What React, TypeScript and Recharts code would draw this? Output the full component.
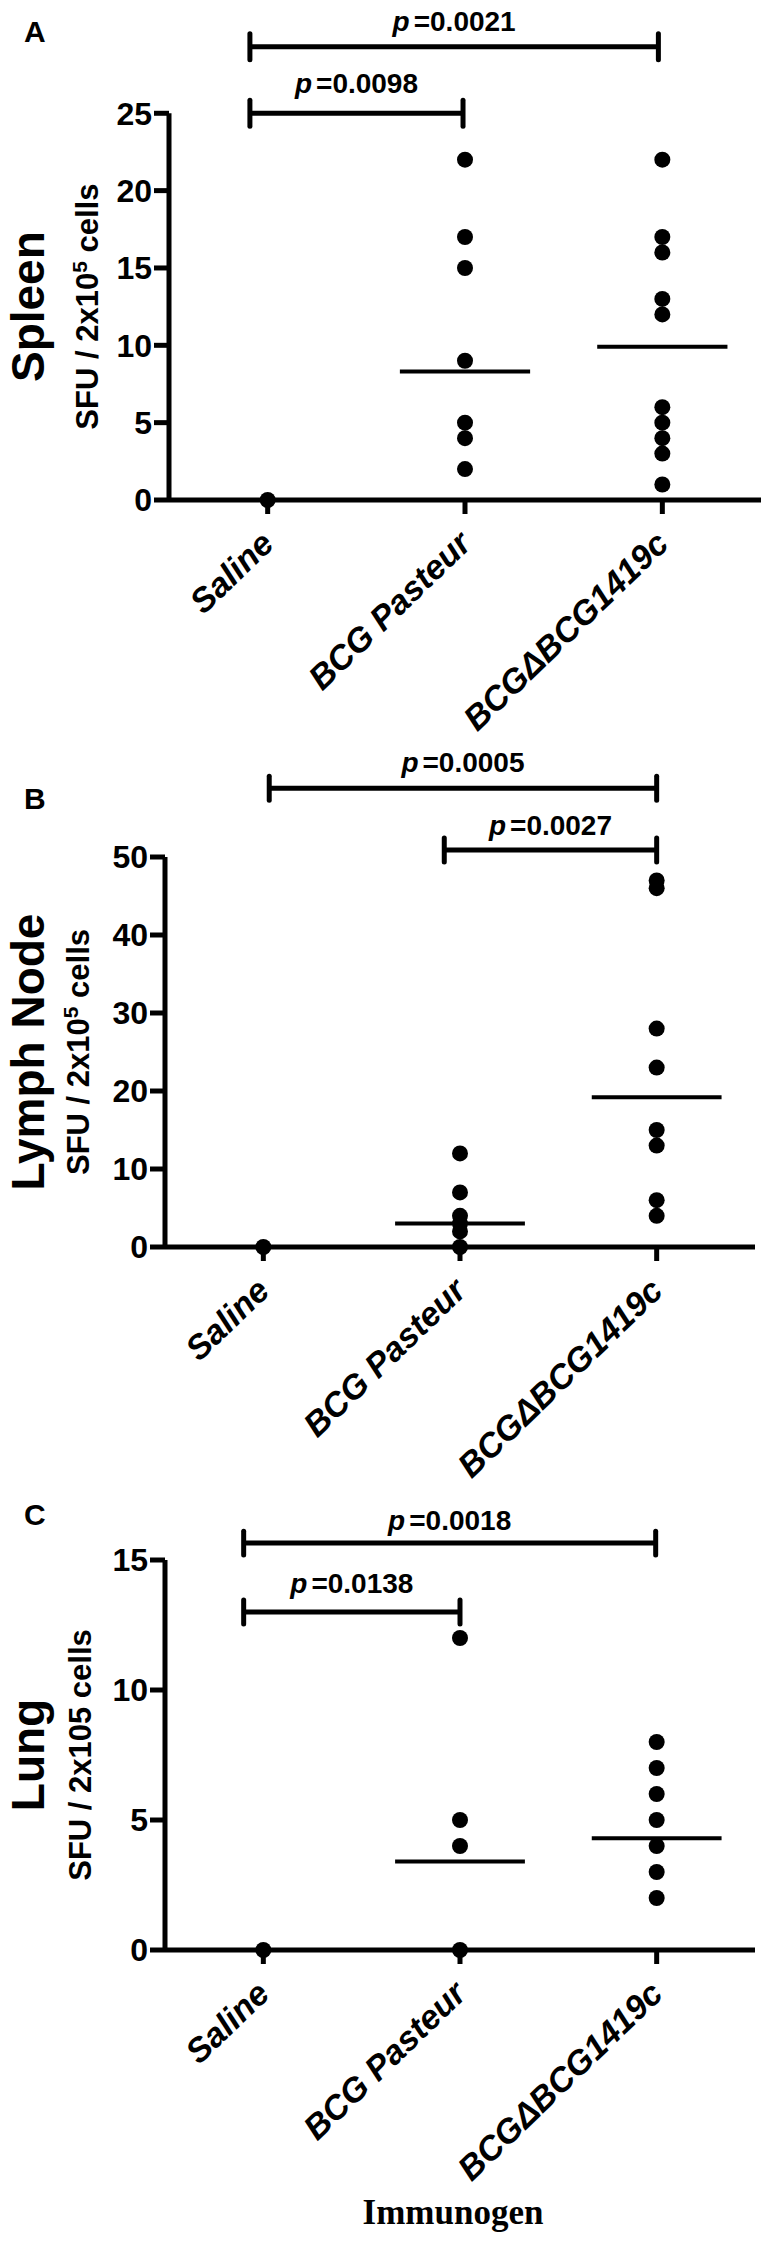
import React from 'react';
import { ScatterChart, Scatter, XAxis, YAxis, ReferenceLine, ReferenceDot } from 'recharts';

const groups = ['Saline', 'BCG Pasteur', 'BCGΔBCG1419c'];

// A - Spleen
const spleenSaline = [0];
const spleenPasteur = [22, 17, 15, 9, 5, 4, 2];
const spleenDelta = [22, 17, 16, 13, 12, 6, 5, 4, 3, 1];
const spleenMeans = [8.3, 9.9];
const spleenTicks = [0, 5, 10, 15, 20, 25];
const spleenP = ['0.0021', '0.0098'];

// B - Lymph node
const lymphSaline = [0];
const lymphPasteur = [12, 7, 4, 3, 2, 0];
const lymphDelta = [47, 46, 28, 23, 15, 13, 6, 4];
const lymphMeans = [3.0, 19.2];
const lymphTicks = [0, 10, 20, 30, 40, 50];
const lymphP = ['0.0005', '0.0027'];

// C - Lung
const lungSaline = [0];
const lungPasteur = [12, 5, 4, 0];
const lungDelta = [8, 7, 6, 5, 4, 3, 2];
const lungMeans = [3.4, 4.3];
const lungTicks = [0, 5, 10, 15];
const lungP = ['0.0018', '0.0138'];

const FONT = '"Liberation Sans", Arial, Helvetica, sans-serif';

const toPoints = (vals: number[], x: number) => vals.map((y) => ({ x, y }));

const Dot = (props: any) => <circle cx={props.cx} cy={props.cy} r={8} fill="#000" />;

const CatTick = (props: any) => {
  const { x, y, payload } = props;
  const ax = x + 8;
  const ay = y + 30;
  return (
    <text x={ax} y={ay} transform={`rotate(-44 ${ax} ${ay})`} textAnchor="end"
      fontSize={34} fontWeight="bold" fontStyle="italic" fill="#000" fontFamily={FONT}>
      {groups[payload.value]}
    </text>
  );
};

const pShape = (p: string) => (props: any) => (
  <text x={props.cx} y={props.cy} textAnchor="middle" fontSize={28} fontWeight="bold" fill="#000" fontFamily={FONT}>
    <tspan fontStyle="italic">p</tspan>
    <tspan dx={4}>={p}</tspan>
  </text>
);

const YTitle = (props: any) => {
  const { viewBox, cfg } = props;
  const vb = viewBox || { x: 0, y: 5, width: cfg.left, height: cfg.height - 5 - cfg.xAxisHeight };
  const bottom = vb.y + vb.height;
  const cy = bottom - (cfg.ticks[cfg.ticks.length - 1] / cfg.yMax) * vb.height / 2;
  return (
    <g fontFamily={FONT} fill="#000" fontWeight="bold">
      <text x={24} y={cfg.letterY} fontSize={30}>{cfg.letter}</text>
      <text transform={`translate(${cfg.mainX},${cy}) rotate(-90)`} textAnchor="middle" fontSize={46}>{cfg.title}</text>
      <text transform={`translate(${cfg.subX},${cy}) rotate(-90)`} textAnchor="middle" fontSize={31}>
        {cfg.sup ? (
          <>
            SFU / 2x10<tspan dy={-11} fontSize={21}>5</tspan><tspan dy={11}> cells</tspan>
          </>
        ) : cfg.sub}
      </text>
    </g>
  );
};

const XTitle = (props: any) => {
  const { viewBox } = props;
  if (!viewBox) return null;
  return (
    <text x={viewBox.x + viewBox.width / 2 - 7} y={viewBox.y + viewBox.height - 21} textAnchor="middle"
      fontFamily='"Liberation Serif", "Times New Roman", serif' fontWeight="bold" fontSize={35} fill="#000">
      Immunogen
    </text>
  );
};

const Panel = ({ cfg }: { cfg: any }) => {
  const series = [cfg.saline, cfg.pasteur, cfg.delta];
  const axisTop = cfg.ticks[cfg.ticks.length - 1];
  return (
    <div style={{ position: 'absolute', left: 0, top: cfg.top }}>
      <ScatterChart width={764} height={cfg.height} margin={{ top: 5, right: 764 - cfg.right, bottom: 0, left: 0 }}>
        <XAxis type="number" dataKey="x" domain={[-0.5, 2.5]} ticks={[0, 1, 2]} interval={0}
          height={cfg.xAxisHeight} axisLine={{ stroke: '#000', strokeWidth: 5 }}
          tickLine={{ stroke: '#000', strokeWidth: 5 }} tickSize={14} tick={<CatTick />}
          label={cfg.immunogen ? <XTitle /> : undefined} />
        <YAxis type="number" dataKey="y" domain={[0, cfg.yMax]} ticks={cfg.ticks} interval={0}
          width={cfg.left} axisLine={false} tickLine={{ stroke: '#000', strokeWidth: 5 }} tickSize={15} tickMargin={2}
          tick={{ fill: '#000', fontSize: 32, fontWeight: 'bold', fontFamily: FONT }}
          label={<YTitle cfg={cfg} />} />
        <ReferenceLine segment={[{ x: -0.5, y: 0 }, { x: -0.5, y: axisTop }]} stroke="#000" strokeWidth={5} ifOverflow="visible" />
        {cfg.means.map((m: number, i: number) => (
          <ReferenceLine key={'m' + i} segment={[{ x: i + 1 - 0.33, y: m }, { x: i + 1 + 0.33, y: m }]}
            stroke="#000" strokeWidth={4} ifOverflow="visible" />
        ))}
        {cfg.brackets.map((b: any, i: number) => (
          <React.Fragment key={'b' + i}>
            <ReferenceLine segment={[{ x: b.from, y: b.y }, { x: b.to, y: b.y }]} stroke="#000" strokeWidth={5} ifOverflow="visible" />
            <ReferenceLine segment={[{ x: b.from, y: b.y - b.cap }, { x: b.from, y: b.y + b.cap }]} stroke="#000" strokeWidth={5} strokeLinecap="round" ifOverflow="visible" />
            <ReferenceLine segment={[{ x: b.to, y: b.y - b.cap }, { x: b.to, y: b.y + b.cap }]} stroke="#000" strokeWidth={5} strokeLinecap="round" ifOverflow="visible" />
            <ReferenceDot x={(b.from + b.to) / 2} y={b.textY} r={0} ifOverflow="visible" shape={pShape(b.p)} />
          </React.Fragment>
        ))}
        {series.map((vals: number[], i: number) => (
          <Scatter key={groups[i]} name={groups[i]} data={toPoints(vals, i)} fill="#000" shape={<Dot />} isAnimationActive={false} />
        ))}
      </ScatterChart>
    </div>
  );
};

const panelA = {
  top: 0, height: 775, xAxisHeight: 275, left: 169, right: 761, yMax: 32,
  saline: spleenSaline, pasteur: spleenPasteur, delta: spleenDelta, means: spleenMeans, ticks: spleenTicks,
  letter: 'A', letterY: 42, title: 'Spleen', sup: true, mainX: 44, subX: 98,
  brackets: [
    { from: -0.09, to: 1.98, y: 29.3, cap: 0.84, textY: 30.3, p: spleenP[0] },
    { from: -0.09, to: 0.99, y: 25, cap: 0.84, textY: 26.3, p: spleenP[1] },
  ],
};

const panelB = {
  top: 735, height: 782, xAxisHeight: 270, left: 165, right: 755, yMax: 65,
  saline: lymphSaline, pasteur: lymphPasteur, delta: lymphDelta, means: lymphMeans, ticks: lymphTicks,
  letter: 'B', letterY: 809 - 735, title: 'Lymph Node', sup: true, mainX: 44, subX: 89,
  brackets: [
    { from: 0.03, to: 2.0, y: 58.8, cap: 1.54, textY: 60.9, p: lymphP[0] },
    { from: 0.92, to: 2.0, y: 50.9, cap: 1.54, textY: 52.8, p: lymphP[1] },
  ],
};

const panelC = {
  top: 1490, height: 755, xAxisHeight: 295, left: 165, right: 755, yMax: 17.5,
  saline: lungSaline, pasteur: lungPasteur, delta: lungDelta, means: lungMeans, ticks: lungTicks,
  letter: 'C', letterY: 1525 - 1490, title: 'Lung', sup: false, sub: 'SFU / 2x105 cells', mainX: 44, subX: 91,
  immunogen: true,
  brackets: [
    { from: -0.1, to: 1.995, y: 15.65, cap: 0.46, textY: 16.15, p: lungP[0] },
    { from: -0.1, to: 1.0, y: 13.0, cap: 0.46, textY: 13.73, p: lungP[1] },
  ],
};

export default function App() {
  return (
    <div style={{ position: 'relative', width: 764, height: 2245, background: '#fff', fontFamily: FONT }}>
      <style>{'body{margin:0}'}</style>
      <Panel cfg={panelA} />
      <Panel cfg={panelB} />
      <Panel cfg={panelC} />
    </div>
  );
}
